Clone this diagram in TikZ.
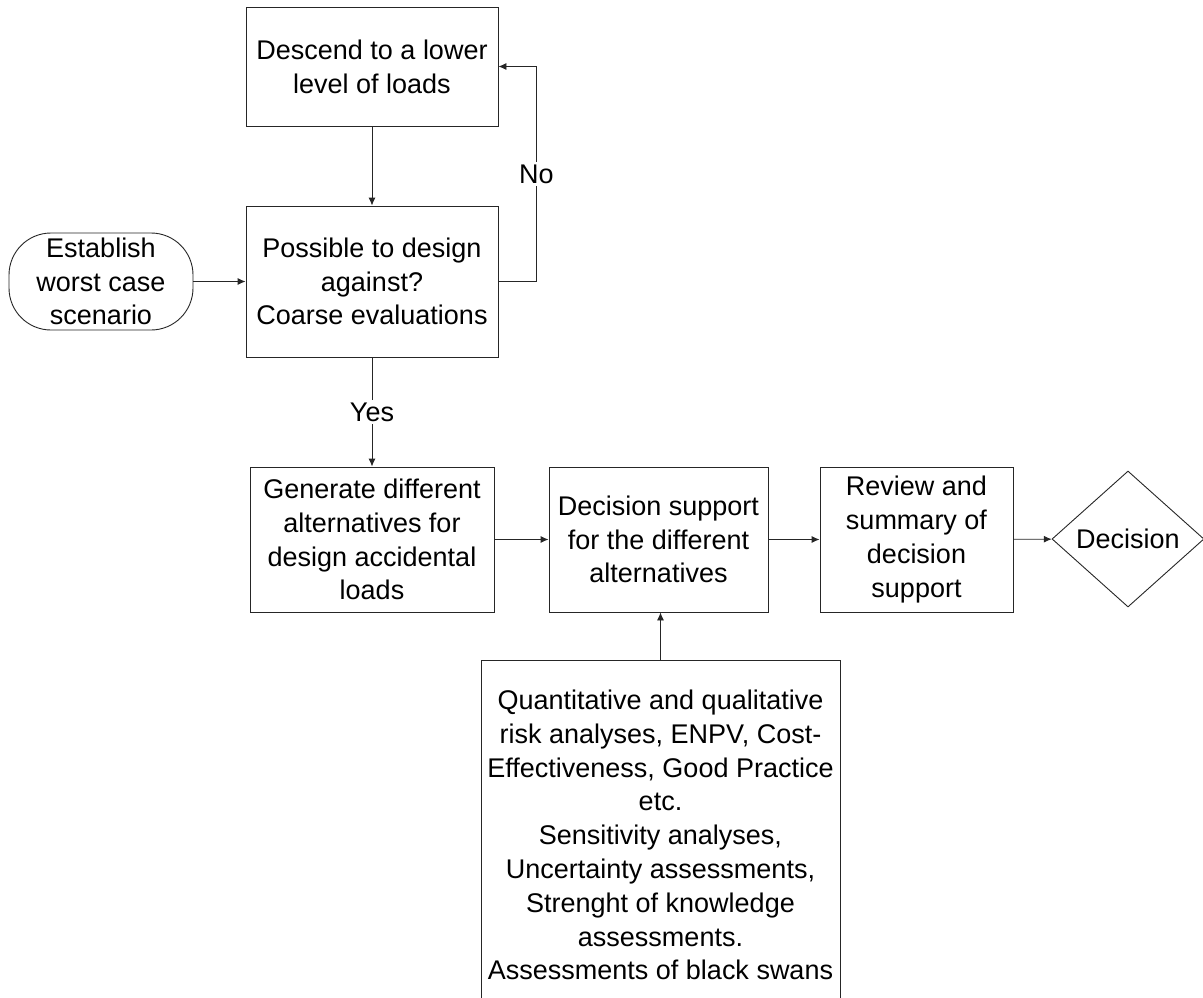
\documentclass[tikz,border=0pt]{standalone}
\usepackage{fontspec}
\setmainfont{Liberation Sans}
\usetikzlibrary{shapes.geometric,arrows.meta}
\newcommand\fsz{\fontsize{27}{33.8}\selectfont}
\tikzset{
  box/.style={draw=black!85, line width=0.9pt, align=center, inner sep=0pt, font=\fsz, rectangle},
  term/.style={box, rounded corners=42pt},
  dec/.style={draw=black!85, line width=0.9pt, shape=diamond, inner sep=0pt, font=\fsz, minimum width=152pt, minimum height=136pt},
  arr/.style={draw=black!85, line width=0.9pt, -{Latex[length=8pt,width=7pt]}},
  lbl/.style={fill=white, font=\fsz, inner sep=3pt}
}
\begin{document}
\begin{tikzpicture}[x=1pt,y=-1pt]
\useasboundingbox (0,0) rectangle (1203,998);
\clip (0,0) rectangle (1203,998);
\node[box, minimum width=252pt, minimum height=119pt] (descend) at (372,66.5) {Descend to a lower\\level of loads};
\node[box, minimum width=252pt, minimum height=151pt] (possible) at (372,281.5) {Possible to design\\against?\\Coarse evaluations};
\node[term, minimum width=184pt, minimum height=97pt] (start) at (101,281.5) {Establish\\worst case\\scenario};
\node[box, minimum width=244pt, minimum height=145pt] (generate) at (372,539.5) {Generate different\\alternatives for\\design accidental\\loads};
\node[box, minimum width=219pt, minimum height=145pt] (support) at (658.5,539.5) {Decision support\\for the different\\alternatives};
\node[box, minimum width=193pt, minimum height=145pt] (review) at (916.5,539.5) {Review and\\summary of\\decision\\support};
\node[dec] (decision) at (1128,539) {Decision};
\node[box, minimum width=359pt, minimum height=350pt] (analysis) at (660.5,835) {Quantitative and qualitative\\risk analyses, ENPV, Cost-\\Effectiveness, Good Practice\\etc.\\Sensitivity analyses,\\Uncertainty assessments,\\Strenght of knowledge\\assessments.\\Assessments of black swans};

\draw[arr] (start) -- (possible);
\draw[arr] (descend) -- (possible);
\draw[arr] (possible.east) -- ++(38,0) coordinate (lp) -- (lp |- descend.east) node[midway, lbl] {No} -- (descend.east);
\draw[arr] (possible) -- (generate) node[midway, lbl] {Yes};
\draw[arr] (generate) -- (support);
\draw[arr] (support) -- (review);
\draw[arr] (review) -- (decision);
\draw[arr] (analysis.north) -- (analysis.north |- support.south);
\end{tikzpicture}
\end{document}
